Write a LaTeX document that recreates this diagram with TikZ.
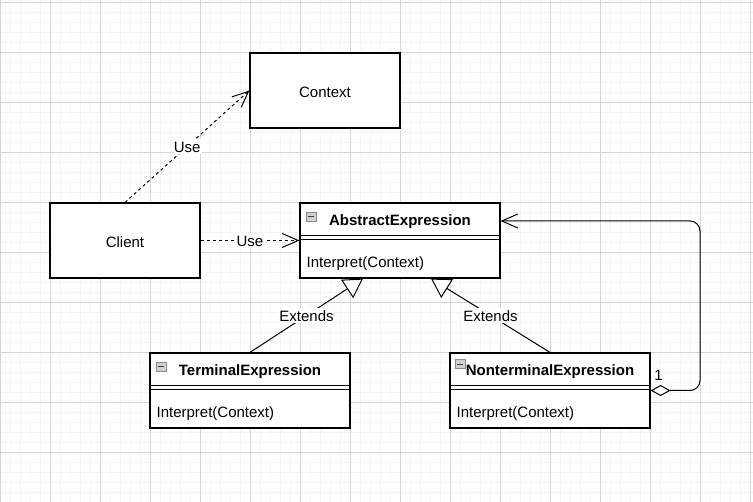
\documentclass[tikz,border=0pt]{standalone}
\usepackage{fontspec}
\setmainfont{Liberation Sans}
\usetikzlibrary{arrows.meta,calc}

\begin{document}
\begin{tikzpicture}[x=1pt, y=-1pt, font=\fontsize{15}{18}\selectfont,
	box/.style = {draw, rectangle, line width=1.2pt, fill=white, inner sep=0pt},
	plainbox/.style = {box, minimum width=150pt, minimum height=75pt, text height=13.5pt, text depth=0pt},
	classbox/.style = {box, minimum width=200pt, minimum height=75pt},
	title/.style = {inner sep=0pt, font=\fontsize{15}{18}\selectfont\bfseries},
	member/.style = {inner sep=0pt, anchor=west},
	sep/.style = {line width=1pt},
	minusicon/.style = {draw=black!45, fill=black!18, line width=0.8pt, minimum width=10pt, minimum height=9pt, inner sep=0pt,
		path picture={\draw[black!75, line width=1pt] ([xshift=2pt]path picture bounding box.west) -- ([xshift=-2pt]path picture bounding box.east);}},
	lbl/.style = {fill=white, inner sep=1pt, text height=13pt, text depth=0pt},
	use/.style = {line width=1pt, dash pattern=on 3pt off 3pt, -{Straight Barb[length=16pt, width=14pt]}},
	extends/.style = {line width=1pt, -{Triangle[open, length=19pt, width=22pt, fill=white]}},
	aggr/.style = {line width=1pt, rounded corners=10pt, {Diamond[open, length=20pt, width=11pt, fill=white]}-{Straight Barb[length=16pt, width=14pt]}}]

	\def \minorgrid {black!4}
	\def \majorgrid {black!16}

	\useasboundingbox (0,0) rectangle (753,502);
	\fill[white] (0,0) rectangle (753,502);

	% grid
	\foreach \gx in {0,10,...,750} \draw[\minorgrid, line width=0.6pt] (\gx,0) -- (\gx,502);
	\foreach \gy in {2.5,12.5,...,502.5} \draw[\minorgrid, line width=0.6pt] (0,\gy) -- (753,\gy);
	\foreach \gx in {0,50,...,750} \draw[\majorgrid, line width=0.7pt] (\gx,0) -- (\gx,502);
	\foreach \gy in {2.5,52.5,...,502.5} \draw[\majorgrid, line width=0.7pt] (0,\gy) -- (753,\gy);

	% plain boxes
	\node (Ctx) at (325,90.5) [plainbox] {Context};
	\node (Cl) at (125,240.5) [plainbox] {Client};

	% classes
	\node (AE) at (400,240.5) [classbox] {};
	\node (TE) at (250,390.5) [classbox] {};
	\node (NE) at (550,390.5) [classbox] {};

	\node (AEt) at ($(AE.north)+(0,19.5)$) [title] {AbstractExpression};
	\node (TEt) at ($(TE.north)+(0,19.5)$) [title] {TerminalExpression};
	\node (NEt) at ($(NE.north)+(0,19.5)$) [title] {NonterminalExpression};

	\node (AEm) at ($(AE.north west)+(7,61.5)$) [member] {Interpret(Context)};
	\node (TEm) at ($(TE.north west)+(7,61.5)$) [member] {Interpret(Context)};
	\node (NEm) at ($(NE.north west)+(7,61.5)$) [member] {Interpret(Context)};

	\draw[sep] ($(AE.north west)+(0,33)$) -- ($(AE.north east)+(0,33)$);
	\draw[sep] ($(AE.north west)+(0,37)$) -- ($(AE.north east)+(0,37)$);
	\draw[sep] ($(TE.north west)+(0,33)$) -- ($(TE.north east)+(0,33)$);
	\draw[sep] ($(TE.north west)+(0,37)$) -- ($(TE.north east)+(0,37)$);
	\draw[sep] ($(NE.north west)+(0,33)$) -- ($(NE.north east)+(0,33)$);
	\draw[sep] ($(NE.north west)+(0,37)$) -- ($(NE.north east)+(0,37)$);

	\node (AEi) at ($(AE.north west)+(11.5,14.5)$) [minusicon] {};
	\node (TEi) at ($(TE.north west)+(11.5,14.5)$) [minusicon] {};
	\node (NEi) at ($(NE.north west)+(10.5,12)$) [minusicon] {};

	% connectors
	\draw[use] (Cl.north) -- node[lbl] {Use} (Ctx.west);
	\draw[use] (Cl.east) -- node[lbl] {Use} (AE.west);
	\draw[extends] (TE.north) -- node[lbl] {Extends} ($(AE.south)+(-37,0)$);
	\draw[extends] (NE.north) -- node[lbl] {Extends} ($(AE.south)+(31,0)$);
	\coordinate (Turn) at (700,221);
	\draw[aggr] (NE.east) -| (Turn) -- (AE.east |- Turn);
	\node (One) at ($(NE.east)+(3.5,-9.5)$) [anchor=base west, inner sep=0pt] {1};

\end{tikzpicture}
\end{document}
